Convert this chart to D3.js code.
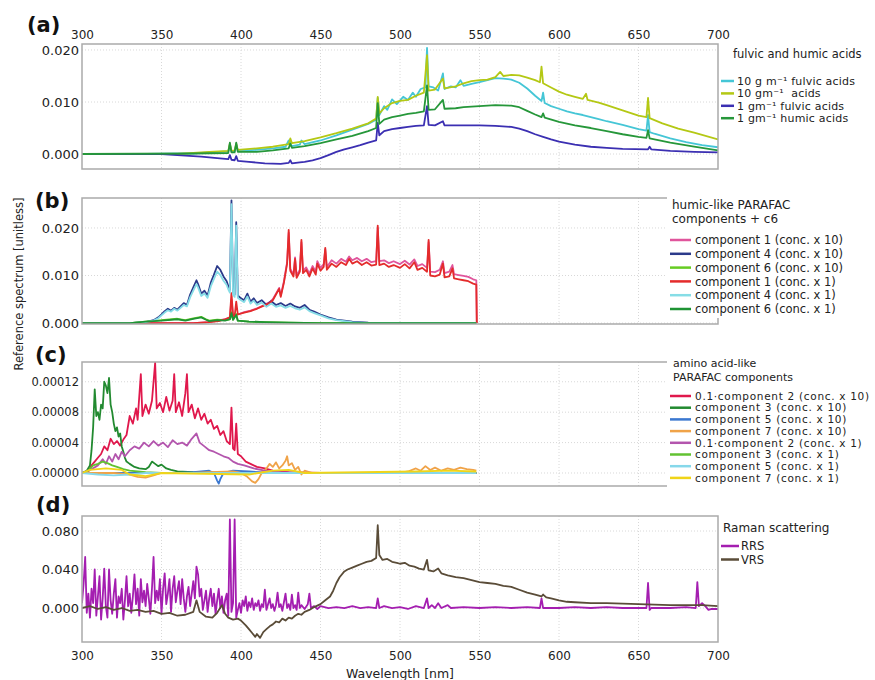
<!DOCTYPE html>
<html>
<head>
<meta charset="utf-8">
<script src="https://cdn.jsdelivr.net/npm/d3@7"></script>
<style>
  body { margin: 0; background: #fff; }
  svg { font-family: "DejaVu Sans", sans-serif; }
  text { white-space: pre; }
</style>
</head>
<body>
<div id="page"></div>
<script>
// ---- data: [wavelength nm, value] ----
const wavelengthTicks = [300, 350, 400, 450, 500, 550, 600, 650, 700];

// (a) fulvic and humic acids
const fulvic10 = [[300,0],[340,0],[370,0.0001],[380,0.0003],[392,0.0005],[393,0.0018],[394,0.0005],[396,0.0005],[397,0.0018],[398,0.0006],[410,0.0008],[420,0.0011],[428,0.0014],[430,0.0026],[432,0.0015],[437,0.0018],[438,0.0026],[440,0.0019],[450,0.0026],[460,0.0036],[470,0.0047],[480,0.0058],[485,0.0066],[486,0.0108],[487,0.0075],[490,0.0092],[492,0.0085],[495,0.0105],[498,0.0096],[502,0.011],[505,0.0104],[508,0.0118],[510,0.011],[513,0.0125],[516,0.0128],[517,0.0204],[518,0.013],[521,0.0128],[524,0.0122],[527,0.0155],[528,0.0125],[532,0.013],[535,0.0128],[538,0.0142],[540,0.0131],[545,0.0135],[550,0.0138],[555,0.0142],[560,0.0146],[565,0.0145],[570,0.0143],[575,0.0137],[580,0.0126],[585,0.0112],[589,0.0102],[590,0.0118],[591,0.0098],[595,0.0092],[600,0.0087],[605,0.0082],[610,0.0078],[615,0.0075],[620,0.0071],[625,0.0067],[630,0.0063],[640,0.0056],[650,0.0048],[655,0.0045],[656,0.0075],[657,0.0042],[660,0.0039],[670,0.003],[680,0.0023],[690,0.0017],[700,0.0013]];
const acids10 = [[300,0],[360,0],[370,0.0002],[380,0.0004],[392,0.0006],[393,0.002],[394,0.0006],[396,0.0007],[397,0.002],[398,0.0008],[410,0.0011],[420,0.0014],[430,0.0019],[431,0.003],[432,0.0021],[440,0.0025],[450,0.0032],[460,0.004],[470,0.0049],[480,0.0059],[485,0.0068],[486,0.011],[487,0.0078],[490,0.0088],[495,0.0098],[500,0.0102],[505,0.0104],[510,0.0112],[515,0.0118],[517,0.019],[518,0.0122],[522,0.0124],[527,0.0145],[528,0.0126],[535,0.013],[540,0.0136],[545,0.014],[550,0.0142],[555,0.0143],[560,0.0148],[563,0.0158],[565,0.015],[570,0.0152],[575,0.0151],[580,0.0147],[585,0.0142],[588,0.0138],[589,0.0168],[590,0.0136],[595,0.0128],[600,0.012],[605,0.0114],[610,0.011],[615,0.0106],[617,0.0116],[618,0.0104],[625,0.0099],[630,0.0094],[640,0.0084],[650,0.0074],[655,0.0071],[656,0.0108],[657,0.0069],[665,0.0059],[675,0.0049],[685,0.0041],[700,0.0028]];
const fulvic1 = [[300,0],[350,0],[365,-0.0003],[375,-0.0005],[385,-0.0008],[392,-0.001],[393,-0.0002],[394,-0.0011],[396,-0.0012],[397,-0.0004],[398,-0.0013],[405,-0.0015],[415,-0.0018],[425,-0.0019],[430,-0.0017],[431,-0.0012],[432,-0.0018],[437,-0.0016],[440,-0.0015],[445,-0.0012],[450,-0.0008],[455,-0.0002],[460,0.0004],[465,0.0009],[470,0.0013],[475,0.0017],[480,0.0022],[485,0.0026],[486,0.006],[487,0.0036],[490,0.0044],[495,0.0048],[500,0.005],[505,0.0052],[510,0.0054],[515,0.0055],[517,0.0092],[518,0.0056],[522,0.0055],[527,0.0063],[528,0.0055],[540,0.0055],[550,0.0055],[560,0.0054],[570,0.0052],[575,0.0049],[580,0.0044],[585,0.0038],[590,0.0033],[595,0.0028],[600,0.0024],[610,0.0018],[620,0.0014],[630,0.0012],[640,0.001],[656,0.0009],[657,0.0014],[658,0.0009],[670,0.0006],[685,0.0004],[700,0.0003]];
const humic1 = [[300,0],[370,0.0001],[392,0.0002],[393,0.0022],[394,0.0003],[396,0.0003],[397,0.0022],[398,0.0004],[410,0.0004],[420,0.0007],[430,0.0011],[431,0.002],[432,0.0012],[440,0.0015],[450,0.0021],[460,0.0028],[470,0.0035],[480,0.0044],[485,0.005],[486,0.0098],[487,0.0058],[490,0.0066],[495,0.0071],[500,0.0074],[505,0.0077],[510,0.0079],[515,0.0082],[517,0.0132],[518,0.0085],[522,0.0086],[527,0.0104],[528,0.0087],[535,0.0088],[540,0.009],[550,0.0092],[560,0.0094],[570,0.0093],[575,0.009],[580,0.0083],[585,0.0076],[589,0.0071],[590,0.0078],[591,0.007],[600,0.0062],[610,0.0055],[620,0.005],[630,0.0044],[640,0.0038],[650,0.0033],[655,0.0031],[656,0.0046],[657,0.003],[670,0.0022],[685,0.0014],[700,0.0007]];

// (b) humic-like PARAFAC components + c6
const comp1x10 = [[300,0],[370,0],[380,0.0002],[390,0.0008],[393,0.0012],[394,0.005],[395,0.0015],[398,0.0018],[402,0.0023],[406,0.0026],[410,0.0031],[414,0.0037],[418,0.0044],[420,0.005],[422,0.0062],[424,0.0074],[425,0.0058],[427,0.0088],[428,0.0108],[429,0.0128],[430,0.019],[431,0.0114],[433,0.0102],[434,0.0138],[435,0.01],[437,0.0112],[438,0.017],[439,0.011],[441,0.0117],[443,0.0104],[445,0.012],[447,0.0108],[448,0.013],[450,0.0116],[452,0.0124],[453,0.0155],[454,0.0118],[457,0.0132],[460,0.0125],[463,0.0135],[466,0.0129],[468,0.014],[470,0.0132],[473,0.0137],[476,0.013],[479,0.0135],[482,0.0128],[485,0.013],[486,0.02],[487,0.013],[490,0.0132],[493,0.0126],[496,0.013],[500,0.0124],[503,0.0131],[506,0.0123],[509,0.0134],[511,0.012],[514,0.0124],[517,0.0116],[518,0.017],[519,0.0108],[522,0.0107],[525,0.0112],[527,0.013],[528,0.0105],[531,0.0108],[533,0.0122],[534,0.0103],[537,0.0101],[540,0.0099],[543,0.0097],[546,0.0092],[548,0.009],[548.3,0]];
const comp4x10 = [[300,0],[330,0],[340,0.0002],[345,0.0006],[348,0.0012],[350,0.0018],[352,0.0025],[354,0.003],[356,0.0026],[358,0.0032],[360,0.0028],[362,0.0035],[364,0.0042],[366,0.0038],[368,0.006],[370,0.0075],[372,0.009],[373,0.0082],[375,0.0062],[377,0.0068],[379,0.0058],[381,0.0085],[383,0.0102],[385,0.012],[387,0.0112],[389,0.0098],[391,0.0088],[392,0.0078],[393,0.007],[394,0.0258],[395,0.0065],[396,0.006],[397,0.0212],[398,0.0058],[400,0.0052],[402,0.0048],[404,0.0062],[406,0.0045],[408,0.0052],[410,0.0042],[413,0.0048],[416,0.0038],[419,0.0046],[422,0.0038],[425,0.0042],[428,0.0036],[431,0.0041],[434,0.0035],[437,0.0032],[440,0.0038],[443,0.0028],[446,0.0024],[450,0.0018],[455,0.0012],[460,0.0007],[470,0.0003],[480,0.0001],[490,0],[548,0]];
const comp6x10 = [[300,0],[330,0],[340,0.0003],[350,0.0006],[360,0.0009],[365,0.0006],[370,0.001],[375,0.0013],[378,0.0008],[380,0.0005],[385,0.0007],[390,0.0006],[393,0.0008],[394,0.0023],[395,0.0007],[397,0.0019],[398,0.0005],[405,0.0003],[415,0.0002],[430,0.0001],[450,0],[548,0]];
const comp1x1 = [[300,0],[370,0],[380,0.0002],[386,0.0004],[390,0.0008],[393,0.0012],[394,0.0063],[395,0.0015],[396,0.0014],[397,0.0045],[398,0.0018],[402,0.0022],[406,0.0025],[410,0.003],[414,0.0036],[418,0.0042],[420,0.0048],[422,0.006],[424,0.0072],[425,0.0055],[427,0.0085],[428,0.0105],[429,0.0125],[430,0.0196],[431,0.011],[433,0.0098],[434,0.0135],[435,0.0095],[437,0.0108],[438,0.0175],[439,0.0105],[441,0.0112],[443,0.0098],[445,0.0115],[447,0.0102],[448,0.0125],[450,0.011],[452,0.0118],[453,0.0158],[454,0.0112],[457,0.0125],[460,0.0118],[463,0.0128],[466,0.0122],[468,0.0135],[470,0.0125],[473,0.013],[476,0.0122],[479,0.0128],[482,0.0121],[485,0.0123],[486,0.0205],[487,0.0122],[490,0.0125],[493,0.0118],[496,0.0122],[500,0.0116],[503,0.0124],[506,0.0115],[509,0.0128],[511,0.0112],[514,0.0116],[517,0.0108],[518,0.0175],[519,0.01],[522,0.0098],[525,0.0102],[527,0.0125],[528,0.0096],[531,0.0098],[533,0.0115],[534,0.0094],[537,0.0092],[540,0.009],[543,0.0088],[546,0.0083],[548,0.0081],[548.3,0]];
const comp4x1 = [[300,0],[330,0],[340,0.0002],[345,0.0005],[348,0.001],[350,0.0016],[352,0.0022],[354,0.0027],[356,0.0024],[358,0.003],[360,0.0026],[362,0.0032],[364,0.0038],[366,0.0035],[368,0.0054],[370,0.0068],[372,0.0082],[373,0.0075],[375,0.0057],[377,0.0062],[379,0.0053],[381,0.0077],[383,0.0093],[385,0.0108],[387,0.0101],[389,0.0089],[391,0.008],[392,0.0071],[393,0.0064],[394,0.025],[395,0.006],[396,0.0055],[397,0.0205],[398,0.0053],[400,0.0048],[402,0.0044],[404,0.0056],[406,0.0041],[408,0.0047],[410,0.0038],[413,0.0043],[416,0.0034],[419,0.0041],[422,0.0034],[425,0.0037],[428,0.0032],[431,0.0036],[434,0.0031],[437,0.0028],[440,0.0033],[443,0.0025],[446,0.0021],[450,0.0016],[455,0.001],[460,0.0006],[470,0.0002],[480,0],[548,0]];
const comp6x1 = [[300,0],[330,0],[340,0.0003],[350,0.0005],[360,0.0008],[365,0.0005],[370,0.0009],[375,0.0012],[378,0.0007],[380,0.0004],[385,0.0006],[390,0.0005],[393,0.0008],[394,0.0021],[395,0.0007],[397,0.0017],[398,0.0005],[405,0.0003],[415,0.0002],[430,0.0001],[450,0],[548,0]];

// (c) amino acid-like PARAFAC components
const comp2x10 = [[300,0],[304,0.2e-5],[306,1e-5],[308,1.5e-5],[310,2e-5],[312,2.5e-5],[314,3.5e-5],[316,3e-5],[318,4.5e-5],[320,3.8e-5],[322,4.2e-5],[324,3.6e-5],[326,4.4e-5],[328,5e-5],[330,7.5e-5],[332,6.5e-5],[334,8.5e-5],[335,7e-5],[337,13e-5],[338,7.5e-5],[340,9e-5],[342,7.8e-5],[344,9.5e-5],[346,14.5e-5],[347,8.5e-5],[349,9.2e-5],[351,8e-5],[353,10e-5],[355,8.2e-5],[357,9.5e-5],[358,13e-5],[359,8e-5],[361,9.3e-5],[363,7.5e-5],[365,10.5e-5],[366,13e-5],[367,8e-5],[369,9e-5],[371,7.2e-5],[373,8.5e-5],[375,7e-5],[377,7.8e-5],[379,6.5e-5],[381,7e-5],[383,5.8e-5],[385,6.2e-5],[387,5e-5],[389,5.5e-5],[391,4.2e-5],[393,3.8e-5],[394,8.6e-5],[395,3.2e-5],[396,3e-5],[397,6.5e-5],[398,2.5e-5],[400,2.2e-5],[403,1.5e-5],[406,1.2e-5],[410,0.8e-5],[415,0.6e-5],[420,0.3e-5],[425,0.2e-5],[430,0.1e-5],[450,0],[548,0]];
const comp3x10 = [[300,0],[303,0.3e-5],[305,1e-5],[306,3e-5],[307,6e-5],[308,11e-5],[309,7.5e-5],[310,8e-5],[311,7e-5],[312,9e-5],[313,8.5e-5],[314,12e-5],[315,11.5e-5],[316,10.5e-5],[317,12.5e-5],[318,9e-5],[319,8e-5],[320,6.5e-5],[321,5.5e-5],[322,6e-5],[323,4.8e-5],[324,5.2e-5],[325,3.5e-5],[326,2.8e-5],[327,2e-5],[328,1.5e-5],[330,1.2e-5],[333,0.8e-5],[336,0.6e-5],[340,0.5e-5],[342,0.8e-5],[344,1.5e-5],[346,1.2e-5],[348,0.9e-5],[350,1.1e-5],[353,0.6e-5],[356,0.4e-5],[360,0.2e-5],[370,0.1e-5],[400,0],[548,0]];
const comp5x10 = [[300,0],[360,0],[370,0.1e-5],[380,0.3e-5],[383,0],[385,-1e-5],[386,-1.4e-5],[387,-0.8e-5],[389,0],[395,0.3e-5],[405,0.2e-5],[420,0],[548,0]];
const comp7x10 = [[300,0],[320,0],[330,-0.2e-5],[335,-0.5e-5],[340,-0.6e-5],[345,-0.3e-5],[350,0],[370,0],[380,0.1e-5],[395,0.2e-5],[400,0],[404,-0.5e-5],[407,-1.1e-5],[409,-1.3e-5],[411,-0.8e-5],[413,0],[416,0.6e-5],[418,1.2e-5],[420,0.8e-5],[422,1.4e-5],[424,0.6e-5],[426,1e-5],[428,1.6e-5],[429,2.2e-5],[430,1e-5],[432,1.3e-5],[434,0.4e-5],[436,0.8e-5],[438,-0.2e-5],[440,0.3e-5],[445,0],[500,0],[505,0.2e-5],[510,0.6e-5],[513,0.3e-5],[516,0.9e-5],[519,0.4e-5],[522,0.7e-5],[526,0.3e-5],[530,0.6e-5],[534,0.4e-5],[538,0.7e-5],[542,0.5e-5],[546,0.4e-5],[548,0.3e-5]];
const comp2x1 = [[300,0],[306,0.5e-5],[310,1e-5],[313,1.8e-5],[315,1.2e-5],[317,2.2e-5],[319,1.5e-5],[321,2.5e-5],[323,1.8e-5],[325,2.8e-5],[327,2.2e-5],[330,3e-5],[333,3.5e-5],[336,3.2e-5],[339,4e-5],[342,3.5e-5],[345,4.2e-5],[348,3.6e-5],[351,4e-5],[354,3.4e-5],[357,4.3e-5],[360,3.8e-5],[363,4e-5],[366,3.6e-5],[369,4.5e-5],[372,5.2e-5],[374,4e-5],[377,3.5e-5],[380,3e-5],[383,2.8e-5],[386,2.5e-5],[389,2.2e-5],[392,2e-5],[395,1.5e-5],[398,1.2e-5],[402,1e-5],[408,0.6e-5],[415,0.3e-5],[425,0.1e-5],[440,0],[548,0]];
const comp3x1 = [[300,0],[304,0.3e-5],[307,1e-5],[310,1.2e-5],[313,1.5e-5],[316,1.3e-5],[319,1e-5],[322,0.8e-5],[326,0.5e-5],[330,0.3e-5],[340,0.1e-5],[350,0],[548,0]];
const comp5x1 = [[300,0],[310,-0.2e-5],[320,-0.3e-5],[330,-0.2e-5],[340,0],[548,0]];
const comp7x1 = [[300,0],[305,0.4e-5],[315,0.6e-5],[325,0.4e-5],[330,-0.2e-5],[340,-0.4e-5],[345,-0.2e-5],[350,0],[405,-0.2e-5],[420,0.3e-5],[430,0.4e-5],[440,0],[510,0.2e-5],[530,0.3e-5],[548,0.2e-5]];

// (d) Raman scattering
const rrs = [[300,0.005],[301,0.025],[302,0.053],[303,-0.005],[304,0.015],[305,-0.01],[306,0.02],[307,0.005],[308,0.04],[309,-0.008],[310,0.012],[311,0.033],[312,-0.012],[313,0.01],[314,0.041],[315,0.002],[316,-0.01],[317,0.04],[318,0.008],[319,-0.006],[320,0.015],[321,0.03],[322,-0.01],[323,0.012],[324,0.005],[325,0.02],[326,-0.012],[327,0.008],[328,0.033],[329,0.002],[330,0.015],[331,-0.005],[332,0.012],[333,0.035],[334,0.004],[335,0.02],[336,-0.008],[337,0.03],[338,0.006],[339,0.018],[340,0.002],[341,0.025],[342,0.01],[343,-0.006],[344,0.02],[345,0.053],[346,0.005],[347,0.018],[348,0.008],[349,0.03],[350,-0.006],[351,0.02],[352,0.036],[353,0.004],[354,0.015],[355,0.03],[356,-0.004],[357,0.02],[358,0.033],[359,0.006],[360,0.018],[361,0.028],[362,0.004],[363,0.03],[364,0.01],[365,-0.004],[366,0.012],[367,0.022],[368,0.002],[369,0.015],[370,0.028],[371,0.01],[372,0.043],[373,0.035],[374,0.012],[375,0.02],[376,-0.002],[377,0.008],[378,0.018],[379,-0.004],[380,0.01],[381,0.02],[382,0.002],[383,0.015],[384,-0.006],[385,0.008],[386,0.02],[387,0],[388,0.012],[389,-0.005],[390,0.008],[391,0.015],[392,-0.008],[393,0.092],[394,-0.004],[395,0.005],[396,0.092],[397,-0.01],[398,-0.002],[399,0.005],[400,-0.005],[401,0.008],[402,0.002],[403,0.012],[404,-0.003],[405,0.006],[406,0.001],[407,0.01],[408,-0.002],[409,0.005],[410,0.002],[411,0.008],[412,-0.003],[413,0.004],[414,0.001],[415,0.019],[416,-0.002],[417,0.004],[418,0.01],[419,0],[420,0.004],[421,-0.003],[422,0.003],[423,0.016],[424,0.001],[425,0.004],[426,-0.003],[427,0.006],[428,0.015],[429,0],[430,0.004],[431,-0.002],[432,0.014],[433,0],[434,0.003],[435,-0.002],[436,0.016],[437,0],[438,0.003],[440,-0.001],[442,0.004],[443,0.015],[444,0],[446,0.002],[448,-0.001],[450,0.002],[455,0],[460,0.001],[465,0],[470,0.002],[475,0],[480,0.001],[485,0],[486,0.01],[487,0],[490,0.002],[495,0],[500,0.001],[505,-0.001],[510,0.002],[515,0],[517,0.01],[518,0],[520,0.003],[522,0],[524,0.005],[526,0],[530,0.003],[532,0],[540,0.001],[550,0],[560,0.001],[570,0],[580,0.001],[588,0],[589,0.01],[590,0],[600,0],[610,0.001],[620,0],[630,0.001],[640,0],[655,0],[656,0.026],[657,-0.002],[658,0],[670,0],[680,0.001],[686,0],[687,0.027],[688,0.002],[690,0.005],[692,0.002],[694,-0.002],[696,-0.001],[700,-0.001]];
const vrs = [[300,0],[305,0.002],[310,-0.001],[315,0.001],[320,-0.002],[325,0],[330,-0.003],[335,-0.002],[340,-0.004],[345,-0.003],[350,-0.006],[355,-0.005],[360,-0.008],[365,-0.007],[370,-0.004],[372,0.008],[374,-0.004],[378,-0.009],[382,-0.01],[385,-0.005],[388,0.003],[390,-0.006],[392,-0.01],[395,-0.012],[398,-0.011],[400,-0.013],[403,-0.018],[405,-0.022],[407,-0.026],[409,-0.03],[410,-0.027],[412,-0.031],[414,-0.025],[416,-0.022],[418,-0.019],[420,-0.017],[422,-0.014],[424,-0.015],[426,-0.011],[428,-0.013],[430,-0.01],[432,-0.011],[434,-0.008],[436,-0.006],[438,-0.007],[440,-0.004],[443,-0.002],[446,0.001],[450,0.004],[453,0.008],[456,0.012],[458,0.018],[460,0.026],[462,0.032],[465,0.038],[467,0.04],[470,0.042],[473,0.044],[476,0.046],[479,0.048],[482,0.049],[485,0.052],[486,0.086],[487,0.055],[489,0.05],[492,0.051],[495,0.048],[498,0.047],[500,0.046],[503,0.047],[506,0.044],[509,0.043],[512,0.041],[515,0.04],[517,0.05],[518,0.039],[521,0.038],[524,0.041],[526,0.036],[530,0.034],[535,0.032],[540,0.031],[545,0.029],[550,0.027],[555,0.026],[560,0.025],[565,0.023],[570,0.022],[575,0.019],[580,0.016],[585,0.014],[589,0.012],[590,0.014],[592,0.011],[595,0.01],[600,0.008],[605,0.0065],[610,0.006],[620,0.005],[630,0.005],[640,0.0045],[650,0.004],[660,0.0035],[670,0.003],[680,0.003],[690,0.003],[700,0.002]];

// legend names and colours
const namesA = ['10 g m⁻¹ fulvic acids', '10 gm⁻¹  acids', '1 gm⁻¹ fulvic acids', '1 gm⁻¹ humic acids'];
const colorsA = ['#45c6d6', '#b4c814', '#3b2fb2', '#26973a'];
const namesB = ['component 1 (conc. x 10)', 'component 4 (conc. x 10)', 'component 6 (conc. x 10)', 'component 1 (conc. x 1)', 'component 4 (conc. x 1)', 'component 6 (conc. x 1)'];
const colorsB = ['#e0559c', '#2b3a8a', '#66cc22', '#e42b2b', '#86dde6', '#1f9334'];
const namesC = ['0.1·component 2 (conc. x 10)', 'component 3 (conc. x 10)', 'component 5 (conc. x 10)', 'component 7 (conc. x 10)', '0.1·component 2 (conc. x 1)', 'component 3 (conc. x 1)', 'component 5 (conc. x 1)', 'component 7 (conc. x 1)'];
const colorsC = ['#e0184c', '#228a30', '#3b78d0', '#f0a348', '#b355ad', '#62c232', '#86d8ea', '#f0d418'];
const namesD = ['RRS', 'VRS'];
const colorsD = ['#a41eb0', '#5a4c38'];

const width = 875;
const height = 680;

const x = d3.scaleLinear().domain([300, 700]).range([82, 718]);

const svg = d3.select('#page')
              .append('svg')
              .attr('width', width)
              .attr('height', height);

const panels = [
    { id: 'a', label: '(a)', lx: 27, ly: 32, top: 44, bottom: 169, domain: [-0.00288, 0.02115],
      ticks: [0, 0.01, 0.02], fmt: '.3f', tickFont: 13,
      data: [fulvic10, acids10, fulvic1, humic1], names: namesA, colors: colorsA,
      legend: { title: ['fulvic and humic acids'], tx: 733, ty: 58, lx0: 721, lx1: 734, textX: 737, y0: 81, dy: 12.4, font: 11, spacing: 0.2, cover: null } },
    { id: 'b', label: '(b)', lx: 35, ly: 208, top: 198, bottom: 324, domain: [-0.0002, 0.0263],
      ticks: [0, 0.01, 0.02], fmt: '.3f', tickFont: 13,
      data: [comp1x10, comp4x10, comp6x10, comp1x1, comp4x1, comp6x1], names: namesB, colors: colorsB,
      legend: { title: ['humic-like PARAFAC', 'components + c6'], tx: 672, ty: 209, lx0: 670, lx1: 691, textX: 695, y0: 240, dy: 13.8, font: 11.5, spacing: 0, cover: [667, 195, 875, 318] } },
    { id: 'c', label: '(c)', lx: 35, ly: 362, top: 362, bottom: 486, domain: [-1.71e-5, 14.6e-5],
      ticks: [0, 4e-5, 8e-5, 12e-5], fmt: '.5f', tickFont: 11.5,
      data: [comp2x10, comp3x10, comp5x10, comp7x10, comp2x1, comp3x1, comp5x1, comp7x1], names: namesC, colors: colorsC,
      legend: { title: ['amino acid-like', 'PARAFAC components'], tx: 673, ty: 367, lx0: 670, lx1: 691, textX: 695, y0: 396, dy: 11.7, font: 10.5, spacing: 0.7, cover: [667, 352, 875, 492] } },
    { id: 'd', label: '(d)', lx: 36, ly: 512, top: 516, bottom: 642, domain: [-0.0353, 0.0956],
      ticks: [0, 0.04, 0.08], fmt: '.3f', tickFont: 13,
      data: [rrs, vrs], names: namesD, colors: colorsD,
      legend: { title: ['Raman scattering'], tx: 723, ty: 532, lx0: 721, lx1: 739, textX: 741, y0: 546, dy: 13.5, font: 11.5, spacing: 0, cover: null } }
];

panels.forEach(p => {
    const y = d3.scaleLinear().domain(p.domain).range([p.bottom, p.top]);
    const g = svg.append('g').attr('class', 'panel-' + p.id);

    // dotted grid
    g.selectAll('.vgrid')
     .data(wavelengthTicks.slice(1, -1))
     .enter()
     .append('line')
     .attr('x1', d => x(d)).attr('x2', d => x(d))
     .attr('y1', p.top).attr('y2', p.bottom)
     .attr('stroke', '#d8d8d8')
     .attr('stroke-dasharray', '1,2');

    g.selectAll('.hgrid')
     .data(p.ticks)
     .enter()
     .append('line')
     .attr('x1', 82).attr('x2', 718)
     .attr('y1', d => y(d)).attr('y2', d => y(d))
     .attr('stroke', '#d8d8d8')
     .attr('stroke-dasharray', '1,2');

    svg.append('clipPath')
       .attr('id', 'clip-' + p.id)
       .append('rect')
       .attr('x', 82).attr('y', p.top)
       .attr('width', 636).attr('height', p.bottom - p.top);

    const line = d3.line()
                   .x(d => x(d[0]))
                   .y(d => y(d[1]));

    g.append('g')
     .attr('clip-path', `url(#clip-${p.id})`)
     .selectAll('path')
     .data(p.data)
     .enter()
     .append('path')
     .attr('d', line)
     .attr('fill', 'none')
     .attr('stroke', (d, i) => p.colors[i])
     .attr('stroke-width', 1.8)
     .attr('stroke-linejoin', 'round');

    // frame
    g.append('rect')
     .attr('x', 82).attr('y', p.top)
     .attr('width', 636).attr('height', p.bottom - p.top)
     .attr('fill', 'none')
     .attr('stroke', '#aaaaaa')
     .attr('stroke-width', 1.5);

    const yAxis = g.append('g')
                   .attr('transform', 'translate(82,0)')
                   .call(d3.axisLeft(y).tickValues(p.ticks).tickFormat(d3.format(p.fmt)).tickSize(0).tickPadding(3));
    yAxis.select('.domain').remove();
    yAxis.selectAll('text')
         .style('font-family', '"DejaVu Sans", sans-serif')
         .style('font-size', p.tickFont + 'px')
         .attr('fill', '#222');

    svg.append('text')
       .attr('x', p.lx).attr('y', p.ly)
       .text(p.label)
       .style('font-size', '21px')
       .style('font-weight', 'bold')
       .attr('fill', '#111');

    // legend
    const L = p.legend;
    if (L.cover) {
        svg.append('rect')
           .attr('x', L.cover[0]).attr('y', L.cover[1])
           .attr('width', L.cover[2] - L.cover[0]).attr('height', L.cover[3] - L.cover[1])
           .attr('fill', '#fff');
    }
    svg.selectAll(null)
       .data(L.title)
       .enter()
       .append('text')
       .attr('x', L.tx)
       .attr('y', (d, i) => L.ty + i * 14)
       .text(d => d)
       .style('font-size', (L.font + 0.5) + 'px')
       .attr('fill', '#222');

    const lg = svg.selectAll(null)
                  .data(p.names)
                  .enter()
                  .append('g')
                  .attr('transform', (d, i) => `translate(0, ${L.y0 + i * L.dy})`);

    lg.append('line')
      .attr('x1', L.lx0).attr('x2', L.lx1)
      .attr('stroke', (d, i) => p.colors[i])
      .attr('stroke-width', 2.5);

    lg.append('text')
      .attr('x', L.textX)
      .attr('y', 0)
      .attr('dy', '0.36em')
      .text(d => d)
      .style('font-size', L.font + 'px')
      .style('letter-spacing', L.spacing + 'px')
      .attr('fill', '#222');
});

// wavelength axes: top of (a), bottom of (d)
const topAxis = svg.append('g')
                   .attr('transform', 'translate(0,44)')
                   .call(d3.axisTop(x).tickValues(wavelengthTicks).tickSize(0).tickPadding(5));
const bottomAxis = svg.append('g')
                      .attr('transform', 'translate(0,642)')
                      .call(d3.axisBottom(x).tickValues(wavelengthTicks).tickSize(0).tickPadding(9));
[topAxis, bottomAxis].forEach(a => {
    a.select('.domain').remove();
    a.selectAll('text')
     .style('font-family', '"DejaVu Sans", sans-serif')
     .style('font-size', '12px')
     .attr('fill', '#222');
});

svg.append('text')
   .attr('x', 400).attr('y', 678)
   .attr('text-anchor', 'middle')
   .text('Wavelength [nm]')
   .style('font-size', '12.5px')
   .attr('fill', '#222');

svg.append('text')
   .attr('transform', 'translate(23,284) rotate(-90)')
   .attr('text-anchor', 'middle')
   .text('Reference spectrum [unitless]')
   .style('font-size', '11.5px')
   .attr('fill', '#222');
</script>
</body>
</html>
